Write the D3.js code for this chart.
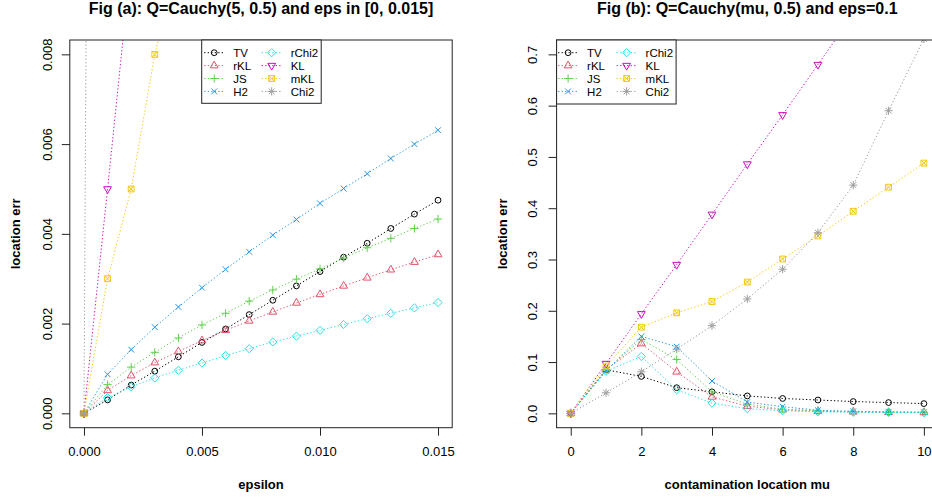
<!DOCTYPE html>
<html>
<head>
<meta charset="utf-8">
<script src="https://d3js.org/d3.v7.min.js"></script>
<style>
  body { margin: 0; background: #fff; }
  svg { display: block; font-family: "Liberation Sans", Arial, Helvetica, sans-serif; }
  .tick text { font-size: 13px; fill: #000; }
  .tick line { stroke: #222; }
  .title { font-size: 16px; font-weight: bold; }
  .axis-label { font-size: 13px; font-weight: bold; }
  .legend text { font-size: 11.5px; }
</style>
</head>
<body>
<div id="chart"></div>
<script>
// ---- data ----
const names = ['TV', 'rKL', 'JS', 'H2', 'rChi2', 'KL', 'mKL', 'Chi2'];
const colors = ['#000000', '#DF536B', '#61D04F', '#2297E6', '#28E2E5', '#CD0BBC', '#F5C710', '#9E9E9E'];
const pchs = [1, 2, 3, 4, 5, 6, 7, 8];

// Fig (a): x = epsilon
const eps = [0, 0.001, 0.002, 0.003, 0.004, 0.005, 0.006, 0.007, 0.008, 0.009, 0.010, 0.011, 0.012, 0.013, 0.014, 0.015];
const aTV    = [0, 0.00030, 0.00063, 0.00094, 0.00126, 0.00158, 0.00188, 0.00220, 0.00252, 0.00284, 0.00316, 0.00348, 0.00379, 0.00412, 0.00444, 0.00475];
const aRKL   = [0, 0.00051, 0.00084, 0.00113, 0.00138, 0.00162, 0.00185, 0.00206, 0.00226, 0.00246, 0.00265, 0.00284, 0.00302, 0.00320, 0.00337, 0.00354];
const aJS    = [0, 0.00064, 0.00103, 0.00136, 0.00168, 0.00197, 0.00223, 0.00250, 0.00275, 0.00299, 0.00322, 0.00346, 0.00369, 0.00390, 0.00412, 0.00433];
const aH2    = [0, 0.00087, 0.00142, 0.00192, 0.00237, 0.00280, 0.00321, 0.00360, 0.00397, 0.00432, 0.00468, 0.00501, 0.00534, 0.00568, 0.00600, 0.00631];
const aRChi2 = [0, 0.00035, 0.00059, 0.00079, 0.00096, 0.00112, 0.00129, 0.00144, 0.00159, 0.00172, 0.00185, 0.00198, 0.00211, 0.00223, 0.00235, 0.00247];
const aKL    = [0, 0.0050, 0.0101];
const aMKL   = [0, 0.0030, 0.0050, 0.0080, 0.0102];
const aChi2  = [0, 0.095];

// Fig (b): x = contamination location mu
const mu = [0, 1, 2, 3, 4, 5, 6, 7, 8, 9, 10];
const bTV    = [0, 0.085, 0.072, 0.050, 0.042, 0.034, 0.029, 0.026, 0.023, 0.021, 0.019];
const bRKL   = [0, 0.085, 0.136, 0.081, 0.032, 0.014, 0.007, 0.004, 0.003, 0.002, 0.002];
const bJS    = [0, 0.084, 0.144, 0.105, 0.042, 0.018, 0.008, 0.005, 0.003, 0.002, 0.002];
const bH2    = [0, 0.083, 0.150, 0.130, 0.063, 0.022, 0.013, 0.006, 0.004, 0.003, 0.002];
const bRChi2 = [0, 0.082, 0.111, 0.046, 0.020, 0.009, 0.005, 0.003, 0.002, 0.002, 0.001];
const bKL    = [0, 0.097, 0.194, 0.290, 0.388, 0.486, 0.582, 0.680, 0.778];
const bMKL   = [0, 0.092, 0.168, 0.196, 0.218, 0.256, 0.301, 0.346, 0.394, 0.441, 0.488];
const bChi2  = [0, 0.040, 0.081, 0.125, 0.171, 0.223, 0.281, 0.352, 0.445, 0.590, 0.730];

const aTicksX = [0, 0.005, 0.010, 0.015];
const aTicksY = [0, 0.002, 0.004, 0.006, 0.008];
const bTicksX = [0, 2, 4, 6, 8, 10];
const bTicksY = [0, 0.1, 0.2, 0.3, 0.4, 0.5, 0.6, 0.7];

// ---- drawing ----
const W = 932, H = 497;
const svg = d3.select('#chart').append('svg').attr('width', W).attr('height', H);

// R-style plotting symbols, s = radius in px
function symbolPath(pch, s) {
  const p = d3.path();
  if (pch === 1) {
    p.moveTo(s, 0); p.arc(0, 0, s, 0, 2 * Math.PI);
  } else if (pch === 2 || pch === 6) {
    const r = 1.555 * s, xc = 1.347 * s, yc = 0.778 * s, f = pch === 2 ? 1 : -1;
    p.moveTo(0, -f * r); p.lineTo(xc, f * yc); p.lineTo(-xc, f * yc); p.closePath();
  } else if (pch === 3) {
    const c = Math.SQRT2 * s;
    p.moveTo(-c, 0); p.lineTo(c, 0); p.moveTo(0, -c); p.lineTo(0, c);
  } else if (pch === 4) {
    p.moveTo(-s, -s); p.lineTo(s, s); p.moveTo(-s, s); p.lineTo(s, -s);
  } else if (pch === 5) {
    const c = Math.SQRT2 * s;
    p.moveTo(0, -c); p.lineTo(c, 0); p.lineTo(0, c); p.lineTo(-c, 0); p.closePath();
  } else if (pch === 7) {
    p.rect(-s, -s, 2 * s, 2 * s);
    p.moveTo(-s, -s); p.lineTo(s, s); p.moveTo(-s, s); p.lineTo(s, -s);
  } else if (pch === 8) {
    const c = Math.SQRT2 * s;
    p.moveTo(-s, -s); p.lineTo(s, s); p.moveTo(-s, s); p.lineTo(s, -s);
    p.moveTo(-c, 0); p.lineTo(c, 0); p.moveTo(0, -c); p.lineTo(0, c);
  }
  return p.toString();
}

const DASH = '1.3,2.2';
const PT = 2.9;

function drawPanel(o) {
  const x = d3.scaleLinear().domain(o.xDomain).range(o.xRange);
  const y = d3.scaleLinear().domain(o.yDomain).range(o.yRange);
  const g = svg.append('g');

  const clipId = 'clip-' + o.id;
  svg.append('clipPath').attr('id', clipId).append('rect')
    .attr('x', o.xRange[0]).attr('y', o.yRange[1])
    .attr('width', o.xRange[1] - o.xRange[0]).attr('height', o.yRange[0] - o.yRange[1]);

  const plot = g.append('g').attr('clip-path', `url(#${clipId})`);
  const line = d3.line().x(d => x(d[0])).y(d => y(d[1]));

  o.series.forEach((vals, i) => {
    const pts = vals.map((v, j) => [o.xs[j], v]);
    plot.append('path').datum(pts)
      .attr('d', line).attr('fill', 'none')
      .attr('stroke', colors[i]).attr('stroke-width', 1).attr('stroke-dasharray', DASH);
    plot.selectAll(null).data(pts).join('path')
      .attr('transform', d => `translate(${x(d[0])},${y(d[1])})`)
      .attr('d', symbolPath(pchs[i], PT))
      .attr('fill', 'none').attr('stroke', colors[i]).attr('stroke-width', 1);
  });

  // box
  g.append('rect')
    .attr('x', o.xRange[0]).attr('y', o.yRange[1])
    .attr('width', o.xRange[1] - o.xRange[0]).attr('height', o.yRange[0] - o.yRange[1])
    .attr('fill', 'none').attr('stroke', '#222').attr('stroke-width', 1);

  // axes
  const xa = g.append('g').attr('transform', `translate(0,${o.yRange[0]})`)
    .call(d3.axisBottom(x).tickValues(o.xTicks).tickFormat(o.xFormat).tickSize(8).tickPadding(11));
  xa.select('.domain').remove();
  xa.selectAll('.tick text').attr('font-size', null).attr('font-family', null);

  const ya = g.append('g').attr('transform', `translate(${o.xRange[0]},0)`)
    .call(d3.axisLeft(y).tickValues(o.yTicks).tickFormat(o.yFormat).tickSize(8));
  ya.select('.domain').remove();
  ya.selectAll('.tick text')
    .attr('font-size', null).attr('font-family', null)
    .attr('transform', 'rotate(-90)')
    .attr('x', 0).attr('y', -o.yLabOff).attr('dy', 0)
    .attr('text-anchor', 'middle');

  const cx = (o.xRange[0] + o.xRange[1]) / 2;
  svg.append('text').attr('class', 'title')
    .attr('x', cx).attr('y', 14).attr('text-anchor', 'middle').text(o.title);
  svg.append('text').attr('class', 'axis-label')
    .attr('x', cx).attr('y', 489).attr('text-anchor', 'middle').text(o.xLabel);
  svg.append('text').attr('class', 'axis-label')
    .attr('transform', `translate(${o.xRange[0] - 50},${(o.yRange[0] + o.yRange[1]) / 2}) rotate(-90)`)
    .attr('text-anchor', 'middle').text('location err');

  // legend
  const L = o.legend;
  const lg = svg.append('g').attr('class', 'legend');
  lg.append('rect').attr('x', L.x).attr('y', L.y).attr('width', L.w).attr('height', L.h)
    .attr('fill', '#fff').attr('stroke', '#222').attr('stroke-width', 1);
  names.forEach((n, i) => {
    const col = Math.floor(i / 4), row = i % 4;
    const lx = L.x + L.colX[col], ly = L.y + 12.7 + row * 12.9;
    lg.append('line').attr('x1', lx).attr('x2', lx + 20).attr('y1', ly).attr('y2', ly)
      .attr('stroke', colors[i]).attr('stroke-dasharray', DASH);
    lg.append('path').attr('transform', `translate(${lx + 10},${ly})`)
      .attr('d', symbolPath(pchs[i], PT)).attr('fill', 'none').attr('stroke', colors[i]);
    lg.append('text').attr('x', lx + 29).attr('y', ly + 4.2).text(n);
  });
}

drawPanel({
  id: 'a',
  title: 'Fig (a): Q=Cauchy(5, 0.5) and eps in [0, 0.015]',
  xLabel: 'epsilon',
  xs: eps,
  series: [aTV, aRKL, aJS, aH2, aRChi2, aKL, aMKL, aChi2],
  xDomain: [-0.0006, 0.0156], xRange: [69.8, 452.2],
  yDomain: [-0.00032, 0.00832], yRange: [427.7, 40],
  xTicks: aTicksX, yTicks: aTicksY,
  xFormat: d3.format('.3f'), yFormat: d3.format('.3f'),
  yLabOff: 18,
  legend: { x: 201.7, y: 40, w: 119.5, h: 63.3, colX: [2.5, 60] }
});

drawPanel({
  id: 'b',
  title: 'Fig (b): Q=Cauchy(mu, 0.5) and eps=0.1',
  xLabel: 'contamination location mu',
  xs: mu,
  series: [bTV, bRKL, bJS, bH2, bRChi2, bKL, bMKL, bChi2],
  xDomain: [-0.4, 10.4], xRange: [556.6, 938],
  yDomain: [-0.028, 0.728], yRange: [427.7, 40],
  xTicks: bTicksX, yTicks: bTicksY,
  xFormat: d3.format('d'), yFormat: d3.format('.1f'),
  yLabOff: 19.5,
  legend: { x: 556.6, y: 40, w: 119.5, h: 64, colX: [1.5, 60] }
});
</script>
</body>
</html>
